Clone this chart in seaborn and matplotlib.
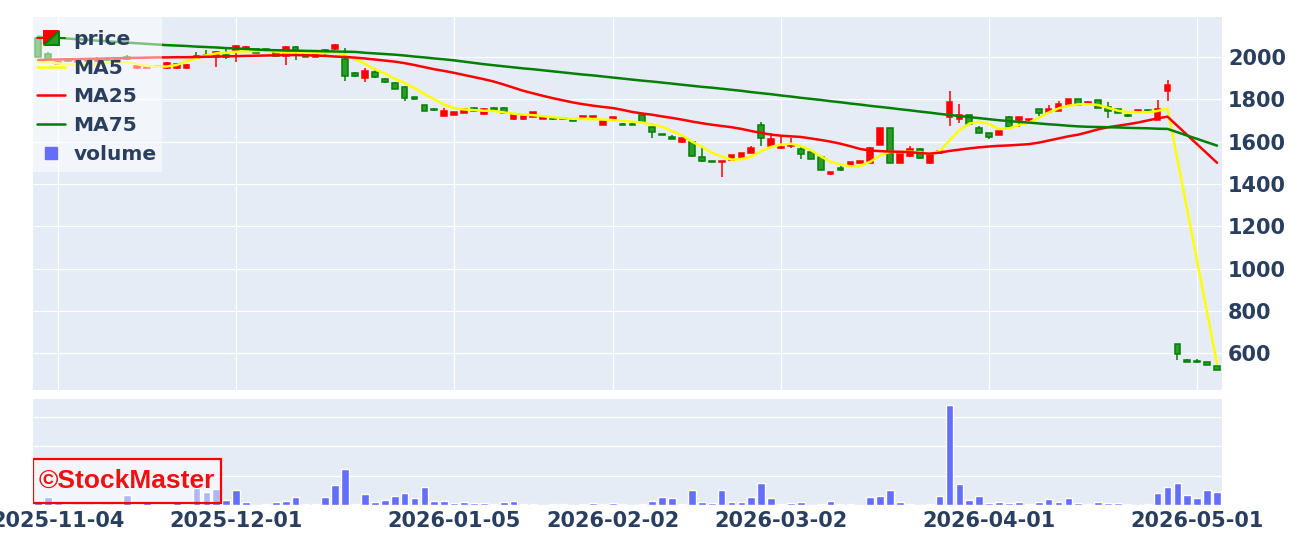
import numpy as np
import pandas as pd
import matplotlib
matplotlib.use("Agg")
import matplotlib.pyplot as plt
from matplotlib.patches import Rectangle, Polygon
from matplotlib.lines import Line2D
from matplotlib.legend_handler import HandlerBase
import seaborn as sns

# ================= data =================
# trading days (category axis): weekdays minus exchange holidays and days without data
HOLIDAYS = ["2025-11-03", "2025-11-24", "2025-12-31", "2026-01-01", "2026-01-02",
            "2026-01-12", "2026-02-11", "2026-02-23", "2026-03-20", "2026-04-29",
            "2026-05-04", "2026-05-05", "2026-05-06"]
NO_DATA = ["2026-01-20", "2026-01-21", "2026-01-22", "2026-02-16"]
DATES = [d.strftime("%Y-%m-%d") for d in pd.bdate_range("2025-10-30", "2026-05-08")
         if d.strftime("%Y-%m-%d") not in HOLIDAYS + NO_DATA]

OPEN = [2092, 2012, 1968, 1990, 1975, 1988, 1982, 1992, 1984, 2002,
        1948, 1950, 1956, 1950, 1948, 1948, 2004, 2010, 1998, 2010,
        2026, 2036, 2036, 2036, 2022, 2003, 2048, 2030, 2001, 2024,
        2036, 1990, 1926, 1900, 1930, 1898, 1878, 1857, 1811, 1772,
        1752, 1722, 1726, 1736, 1760, 1730, 1761, 1761, 1706, 1706,
        1716, 1708, 1713, 1705, 1707, 1716, 1716, 1678, 1709, 1685,
        1685, 1724, 1668, 1636, 1622, 1596, 1598, 1528, 1509, 1503,
        1515, 1527, 1546, 1679, 1577, 1568, 1577, 1563, 1550, 1529,
        1448, 1477, 1486, 1501, 1501, 1585, 1663, 1498, 1530, 1563,
        1498, 1548, 1714, 1708, 1725, 1665, 1641, 1632, 1717, 1703,
        1700, 1752, 1740, 1746, 1774, 1800, 1777, 1796, 1765, 1753,
        1728, 1746, 1749, 1703, 1840, 643, 570, 564, 556, 539]
HIGH = [2095, 2022, 1980, 1995, 1990, 1995, 2000, 1998, 1996, 2010,
        1962, 1958, 1960, 1976, 1970, 1966, 2022, 2035, 2026, 2040,
        2058, 2052, 2040, 2040, 2024, 2052, 2052, 2032, 2016, 2038,
        2060, 2042, 1928, 1950, 1950, 1900, 1880, 1865, 1812, 1774,
        1757, 1757, 1740, 1756, 1762, 1757, 1763, 1763, 1736, 1721,
        1740, 1718, 1714, 1712, 1708, 1721, 1721, 1702, 1718, 1686,
        1686, 1726, 1669, 1637, 1632, 1616, 1605, 1573, 1510, 1510,
        1537, 1548, 1580, 1694, 1642, 1620, 1616, 1579, 1552, 1530,
        1458, 1483, 1505, 1508, 1575, 1664, 1664, 1553, 1578, 1570,
        1537, 1556, 1840, 1776, 1727, 1675, 1643, 1650, 1719, 1718,
        1706, 1754, 1773, 1792, 1801, 1801, 1790, 1797, 1786, 1754,
        1729, 1750, 1750, 1797, 1892, 645, 571, 572, 557, 540]
LOW = [1998, 1980, 1962, 1975, 1970, 1976, 1978, 1982, 1980, 1984,
       1944, 1946, 1950, 1945, 1944, 1944, 1992, 1995, 1952, 1992,
       1978, 2032, 2018, 2028, 2000, 1962, 1984, 1998, 1999, 2008,
       2034, 1888, 1905, 1884, 1902, 1878, 1848, 1790, 1795, 1745,
       1745, 1720, 1724, 1734, 1741, 1726, 1746, 1732, 1704, 1704,
       1714, 1706, 1704, 1703, 1697, 1715, 1715, 1677, 1708, 1677,
       1677, 1693, 1616, 1629, 1611, 1595, 1529, 1505, 1502, 1432,
       1513, 1525, 1544, 1580, 1575, 1566, 1570, 1516, 1516, 1466,
       1441, 1460, 1485, 1500, 1500, 1584, 1497, 1497, 1529, 1520,
       1496, 1547, 1676, 1688, 1682, 1639, 1612, 1630, 1666, 1671,
       1698, 1722, 1739, 1745, 1773, 1773, 1776, 1757, 1713, 1734,
       1718, 1745, 1745, 1702, 1790, 567, 559, 555, 544, 520]
CLOSE = [2002, 1990, 1976, 1982, 1984, 1980, 1990, 1985, 1992, 1990,
         1956, 1954, 1952, 1972, 1966, 1962, 1996, 2000, 2022, 1998,
         2054, 2048, 2020, 2030, 2003, 2048, 2034, 2000, 2014, 2035,
         2057, 1908, 1910, 1935, 1905, 1880, 1850, 1806, 1802, 1747,
         1748, 1745, 1738, 1754, 1744, 1754, 1748, 1734, 1730, 1719,
         1738, 1716, 1706, 1710, 1698, 1720, 1720, 1700, 1716, 1679,
         1679, 1695, 1646, 1631, 1612, 1615, 1531, 1507, 1503, 1508,
         1535, 1547, 1572, 1617, 1610, 1575, 1586, 1542, 1518, 1468,
         1455, 1467, 1504, 1507, 1572, 1662, 1498, 1552, 1567, 1522,
         1536, 1555, 1788, 1728, 1683, 1640, 1624, 1649, 1667, 1717,
         1705, 1735, 1756, 1780, 1800, 1774, 1785, 1758, 1746, 1735,
         1719, 1749, 1746, 1756, 1867, 597, 560, 556, 545, 521]
VOLUME = [113, 263, 68, 24, 17, 17, 24, 17, 34, 341,
          34, 113, 24, 34, 113, 34, 570, 454, 546, 181,
          522, 92, 10, 44, 92, 126, 283, 34, 34, 263,
          683, 1229, 34, 375, 92, 181, 317, 399, 229, 604,
          137, 147, 68, 92, 78, 78, 24, 92, 137, 24,
          44, 7, 34, 34, 7, 24, 58, 24, 58, 24,
          10, 24, 147, 283, 229, 44, 522, 92, 58, 522,
          92, 92, 263, 741, 229, 24, 68, 92, 7, 24,
          147, 44, 24, 7, 263, 317, 522, 92, 24, 10,
          44, 317, 3413, 717, 181, 317, 58, 113, 58, 92,
          34, 113, 195, 92, 229, 58, 34, 113, 68, 58,
          24, 7, 24, 410, 604, 741, 352, 249, 522, 454]
nan = np.nan
MA5 = [1978, 1975, 1970, 1964, 1962, 1965, 1968, 1972, 1975, 1975,
       1966, 1958, 1954, 1955, 1962, 1980, 1995, 2008, 2017, 2020,
       2025, 2027, 2028, 2030, 2025, 2020, 2022, 2020, 2018, 2018,
       2020, 2012, 1989, 1968, 1942, 1922, 1898, 1877, 1853, 1825,
       1800, 1775, 1758, 1752, 1749, 1746, 1745, 1738, 1732, 1728,
       1725, 1720, 1715, 1711, 1708, 1707, 1706, 1704, 1702, 1698,
       1694, 1690, 1682, 1670, 1650, 1630, 1600, 1576, 1548, 1530,
       1515, 1517, 1529, 1555, 1575, 1586, 1590, 1578, 1560, 1530,
       1505, 1492, 1483, 1486, 1505, 1535, 1552, 1550, 1552, 1550,
       1542, 1555, 1605, 1655, 1685, 1694, 1683, 1660, 1663, 1678,
       1690, 1712, 1738, 1757, 1770, 1776, 1777, 1773, 1760, 1746,
       1740, 1739, 1739, 1745, 1757, nan, nan, nan, nan, 550]
MA25 = [1986, 1987, 1988, 1989, 1990, 1991, 1992, 1993, 1994, 1995,
        1996, 1997, 1998, 1998, 1999, 1999, 2000, 2001, 2002, 2003,
        2004, 2005, 2006, 2007, 2008, 2009, 2009, 2008, 2007, 2005,
        2002, 2000, 1997, 1993, 1988, 1983, 1978, 1971, 1962, 1952,
        1942, 1934, 1925, 1915, 1905, 1895, 1884, 1870, 1855, 1840,
        1828, 1816, 1805, 1795, 1785, 1777, 1770, 1764, 1759, 1750,
        1740, 1733, 1727, 1719, 1712, 1704, 1695, 1687, 1680, 1674,
        1668, 1660, 1650, 1641, 1633, 1628, 1625, 1622, 1615, 1608,
        1600, 1590, 1578, 1565, 1558, 1555, 1553, 1552, 1550, 1546,
        1543, 1548, 1556, 1562, 1568, 1573, 1577, 1580, 1582, 1585,
        1588, 1595, 1605, 1615, 1625, 1633, 1645, 1658, 1668, 1675,
        1682, 1690, 1700, 1710, 1718, nan, nan, nan, nan, 1500]
MA75 = [2096, 2093, 2090, 2087, 2084, 2081, 2077, 2074, 2071, 2068,
        2065, 2062, 2059, 2056, 2054, 2052, 2049, 2047, 2045, 2042,
        2040, 2038, 2035, 2033, 2032, 2031, 2030, 2029, 2028, 2027,
        2026, 2025, 2024, 2020, 2017, 2014, 2011, 2007, 2002, 1998,
        1993, 1989, 1984, 1978, 1972, 1966, 1961, 1956, 1951, 1946,
        1942, 1937, 1932, 1927, 1922, 1917, 1913, 1908, 1903, 1898,
        1893, 1888, 1884, 1879, 1874, 1869, 1864, 1859, 1855, 1850,
        1845, 1840, 1834, 1829, 1824, 1818, 1813, 1807, 1802, 1797,
        1791, 1786, 1780, 1775, 1769, 1764, 1759, 1753, 1748, 1742,
        1737, 1731, 1726, 1721, 1716, 1711, 1706, 1701, 1697, 1693,
        1690, 1686, 1682, 1679, 1675, 1672, 1670, 1669, 1668, 1667,
        1665, 1664, 1663, 1661, 1660, nan, nan, nan, nan, 1581]
TICK_DATES = ["2025-11-04", "2025-12-01", "2026-01-05", "2026-02-02",
              "2026-03-02", "2026-04-01", "2026-05-01"]
PRICE_TICKS = [600, 800, 1000, 1200, 1400, 1600, 1800, 2000]

# ================= style =================
W, H = 1291, 543
BG = "#E5ECF6"
FONT_COLOR = "#2a3f5f"
UP = "#ff0000"
DOWN_EDGE = "#008000"
DOWN_FILL = "#2e9a2e"
VOL_COLOR = "#636efa"
TICK_FS = 15
LEG_FS = 14.5

sns.set_theme(style="darkgrid")
plt.rcParams["font.family"] = ["DejaVu Sans"]
plt.rcParams["font.weight"] = "bold"
plt.rcParams["axes.facecolor"] = BG
plt.rcParams["grid.color"] = "white"
plt.rcParams["grid.linewidth"] = 0.9

df = pd.DataFrame({"date": DATES, "open": OPEN, "high": HIGH, "low": LOW,
                   "close": CLOSE, "volume": VOLUME,
                   "MA5": MA5, "MA25": MA25, "MA75": MA75})
df["pos"] = np.arange(len(df))
df["up"] = df["close"] >= df["open"]
tick_pos = [DATES.index(d) for d in TICK_DATES]


class CandleIcon:
    pass


class HandlerCandle(HandlerBase):
    """plotly-like candlestick legend icon: red upper-left / green lower-right"""
    def create_artists(self, legend, orig_handle, xdescent, ydescent,
                       width, height, fontsize, trans):
        cx = -xdescent + width / 2
        cy = -ydescent + height / 2
        u = width / 30.0
        hh = 7 * u
        up_tri = Polygon([[cx - 8 * u, cy - hh], [cx - 8 * u, cy + hh], [cx + 8 * u, cy + hh]],
                         closed=True, fc=UP, ec=UP, lw=1.4, transform=trans)
        dn_tri = Polygon([[cx + 8 * u, cy + hh], [cx + 8 * u, cy - hh], [cx - 8 * u, cy - hh]],
                         closed=True, fc=DOWN_FILL, ec=DOWN_EDGE, lw=1.4, transform=trans)
        up_wick = Line2D([cx - 15 * u, cx - 8 * u], [cy, cy], color=UP, lw=1.4, transform=trans)
        dn_wick = Line2D([cx + 15 * u, cx + 8 * u], [cy, cy], color=DOWN_EDGE, lw=1.4, transform=trans)
        return [up_wick, dn_wick, up_tri, dn_tri]


fig = plt.figure(figsize=(W / 100, H / 100), dpi=100)
ax_w, ax_h = 1222 - 33, 390 - 17
ax = fig.add_axes([33 / W, 1 - 390 / H, ax_w / W, ax_h / H])
axv = fig.add_axes([33 / W, 1 - 505 / H, ax_w / W, (505 - 399) / H], sharex=ax)

# ---- candles ----
for is_up, fc, ec in [(True, UP, UP), (False, DOWN_FILL, DOWN_EDGE)]:
    sub = df[df["up"] == is_up]
    ax.vlines(sub["pos"], sub["low"], sub["high"], color=ec, lw=1.1, zorder=2)
    body_lo = np.minimum(sub["open"], sub["close"])
    body_h = (sub["close"] - sub["open"]).abs()
    ax.bar(sub["pos"], body_h, bottom=body_lo, width=0.58, color=fc,
           edgecolor=ec, linewidth=1.1, zorder=3)

# ---- moving averages ----
for col, color in [("MA5", "yellow"), ("MA25", "red"), ("MA75", "green")]:
    line_df = df[["pos", col]].dropna()
    sns.lineplot(data=line_df, x="pos", y=col, ax=ax, color=color, lw=1.8,
                 legend=False, zorder=4)

# ---- volume ----
sns.barplot(data=df, x="pos", y="volume", ax=axv, color=VOL_COLOR,
            saturation=1, width=0.78, zorder=2)

# ---- axes ----
for a in (ax, axv):
    a.set_xlabel("")
    a.set_ylabel("")
    a.set_facecolor(BG)
    for s in a.spines.values():
        s.set_visible(False)

ax.set_xlim(-0.5, len(df) - 0.5)
ax.set_ylim(426, 2189)
ax.set_yticks(PRICE_TICKS)
ax.yaxis.tick_right()
ax.tick_params(axis="y", length=0, pad=4.3, labelsize=TICK_FS, labelcolor=FONT_COLOR)
axv.set_xticks(tick_pos)
axv.set_xticklabels(TICK_DATES)
ax.tick_params(axis="x", length=0, labelbottom=False)
axv.tick_params(axis="x", length=0, pad=4.5, labelsize=TICK_FS, labelcolor=FONT_COLOR)
axv.set_ylim(0, 3620)
axv.set_yticks([1000, 2000, 3000])
axv.tick_params(axis="y", length=0, labelleft=False, labelright=False)
ax.grid(True)
axv.grid(axis="x", visible=False)
axv.grid(axis="y", visible=True)

# ---- legend (semi-transparent box over the plot, like plotly) ----
ax.add_patch(Rectangle((0, 1 - (172 - 17) / ax_h), (162 - 33) / ax_w, (172 - 17) / ax_h,
                       transform=ax.transAxes, facecolor=(1, 1, 1, 0.5),
                       edgecolor="none", zorder=9))
handles = [CandleIcon(),
           Line2D([], [], color="yellow", lw=1.8),
           Line2D([], [], color="red", lw=1.8),
           Line2D([], [], color="green", lw=1.8),
           Line2D([], [], color=VOL_COLOR, marker="s", ms=8, ls="none")]
labels = ["price", "MA5", "MA25", "MA75", "volume"]
leg = ax.legend(handles, labels, handler_map={CandleIcon: HandlerCandle()},
                loc="upper left", bbox_to_anchor=(4 / ax_w, 1 - 13 / ax_h),
                borderaxespad=0, borderpad=0, fontsize=LEG_FS,
                handlelength=1.4, handletextpad=0.4, labelspacing=0.48,
                frameon=False)
for t in leg.get_texts():
    t.set_color(FONT_COLOR)
leg.set_zorder(10)

# ---- watermark ----
axv.add_patch(Rectangle((0.0, 0.02), 0.158, 0.415, transform=axv.transAxes,
                        facecolor=(1, 1, 1, 0.5), edgecolor="red", lw=1.6, zorder=5))
axv.text(0.079, 0.225, "©StockMaster", transform=axv.transAxes, ha="center",
         va="center", color="#ee1111", fontsize=19, fontweight="bold",
         family=["Liberation Sans", "DejaVu Sans"], zorder=6)

fig.savefig("out.png", dpi=100)
